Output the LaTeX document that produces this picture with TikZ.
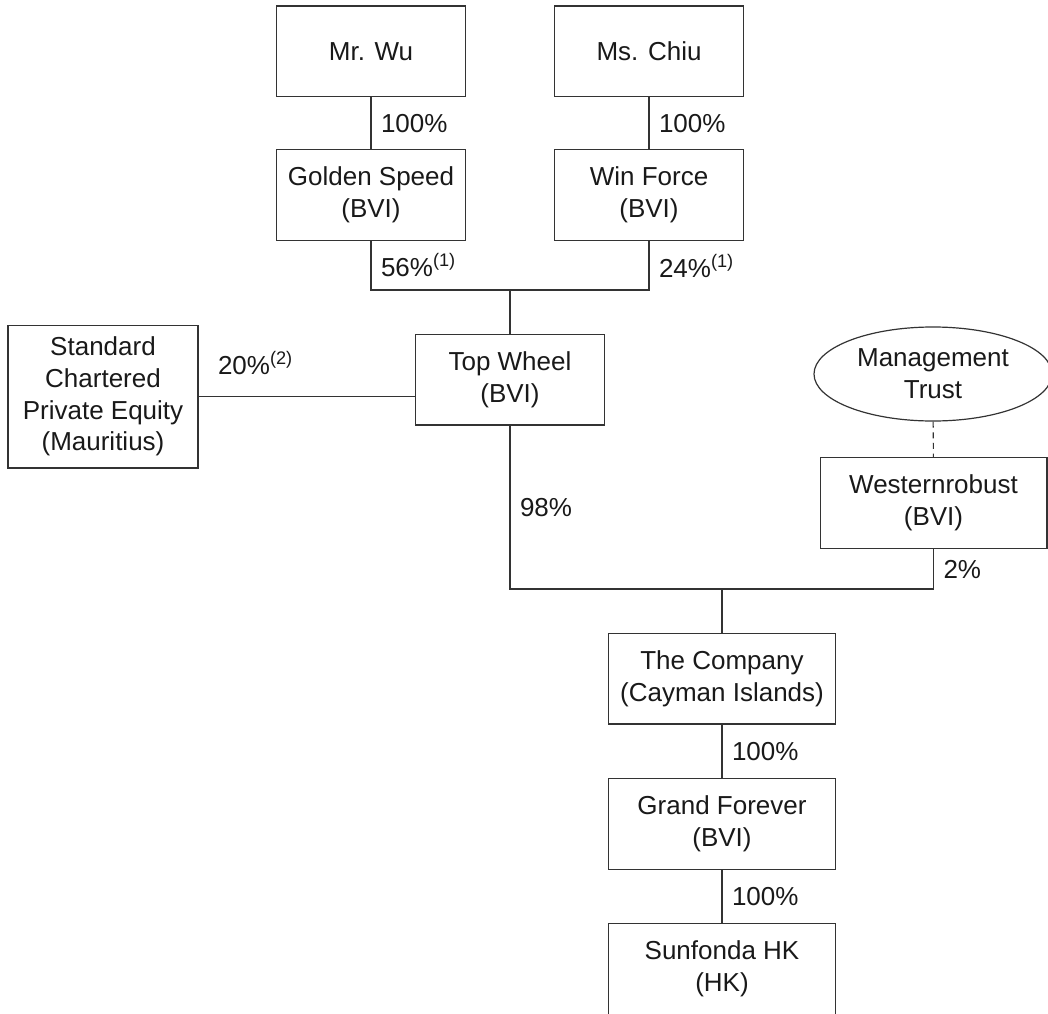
\documentclass[tikz,border=0pt]{standalone}
\usepackage{fontspec}
\setmainfont{Liberation Sans}
\usetikzlibrary{shapes.geometric}
\usetikzlibrary{positioning}

\begin{document}
\begin{tikzpicture}[x=0.75pt, y=-0.75pt,
		txt/.style={font=\fontsize{19.5}{23.8}\selectfont, text=black!90},
		box/.style={txt, draw=black!80, line width=1pt, align=center, inner sep=0pt, minimum width=141.75pt, minimum height=68pt},
		widebox/.style={box, minimum width=170pt},
		trust/.style={txt, ellipse, draw=black!80, line width=0.9pt, align=center, inner sep=0pt, minimum width=178.5pt, minimum height=70.5pt},
		conn/.style={draw=black!80, line width=1pt},
		pct/.style={txt, right, inner sep=0pt, xshift=7pt}]
		\useasboundingbox (0,0) rectangle (1048,1013);

		% owners
		\node[box] (wu) at (371,51.5) {Mr. Wu};
		\node[box] (chiu) at (649,51.5) {Ms. Chiu};
		\node[box] (gold) at (371,195) {Golden Speed\\(BVI)};
		\node[box] (win) at (649,195) {Win Force\\(BVI)};

		% middle level
		\node[box] (top) at (510,379.5) {Top Wheel\\(BVI)};
		\node[box, minimum width=142.5pt, minimum height=107pt] (sc) at (103,396.5) {Standard\\Chartered\\Private Equity\\(Mauritius)};
		\node[trust] (trust) at (933,374) {Management\\Trust};
		\node[widebox] (west) at (933.5,503) {Westernrobust\\(BVI)};

		% group
		\node[widebox] (comp) at (722,678.5) {The Company\\(Cayman Islands)};
		\node[widebox] (grand) at (722,824) {Grand Forever\\(BVI)};
		\node[widebox] (sun) at (722,969) {Sunfonda HK\\(HK)};

		\coordinate (j1) at (510,290);
		\coordinate (j2) at (722,589);

		\draw[conn] (wu) -- node[pct] {100\%} (gold);
		\draw[conn] (chiu) -- node[pct] {100\%} (win);
		\draw[conn] (gold) -- node[pct] {56\%\textsuperscript{(1)}} (gold |- j1) -- (win |- j1) -- node[pct] {24\%\textsuperscript{(1)}} (win);
		\draw[conn] (j1) -- (top);
		\draw[conn] (sc) -- node[txt, pos=0, anchor=base west, inner sep=0pt, xshift=14pt, yshift=16.5pt] {20\%\textsuperscript{(2)}} (sc -| top.west);
		\draw[conn] (top) -- node[pct] {98\%} (top |- j2) -- (west |- j2) -- node[pct] {2\%} (west);
		\draw[conn, line width=0.8pt, dash pattern=on 4.5pt off 3.5pt] (trust) -- (west);
		\draw[conn] (j2) -- (comp);
		\draw[conn] (comp) -- node[pct] {100\%} (grand);
		\draw[conn] (grand) -- node[pct] {100\%} (sun);
	\end{tikzpicture}
\end{document}
